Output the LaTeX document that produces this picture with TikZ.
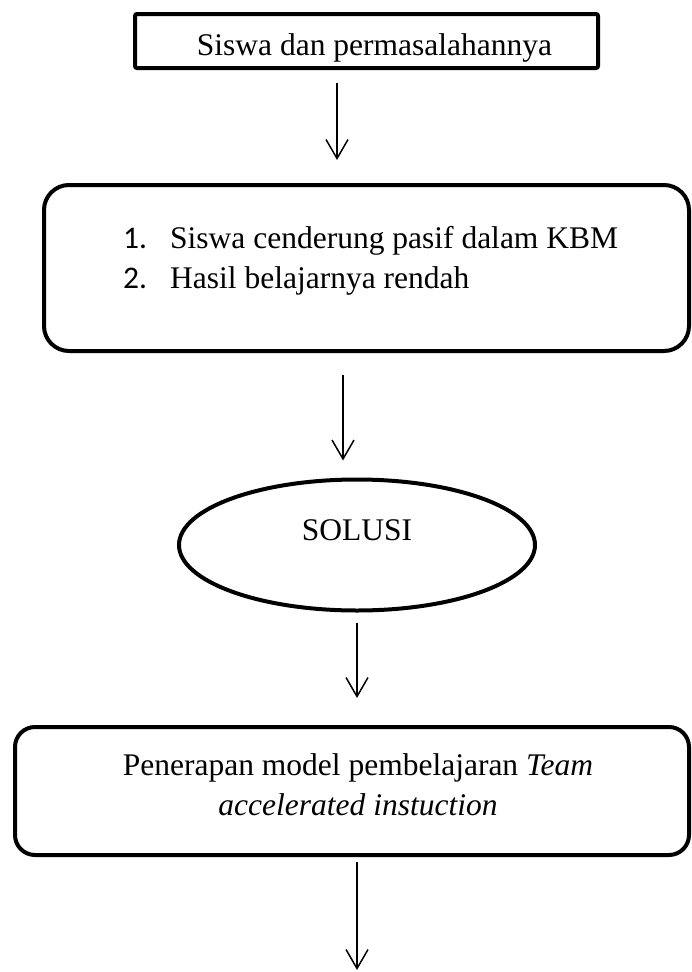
\documentclass[tikz,border=0pt]{standalone}
\usepackage{fontspec}
\setmainfont{Liberation Serif}
\newfontfamily\angka{Carlito}
\usepackage{tikz}
\usetikzlibrary{arrows.meta, positioning, shapes.geometric}

\begin{document}
\begin{tikzpicture}[
    x=1pt, y=-1pt, font=\fontsize{31.5}{40}\selectfont,
    kotak/.style={draw, line width=4pt, inner sep=0pt},
    panah/.style={-{Straight Barb[length=19pt, width=22pt]}, line width=1.5pt}
]
\useasboundingbox (0,0) rectangle (691,972);

\node[kotak, rounded corners=2pt, minimum width=463pt, text height=41pt,
      text depth=13pt, anchor=base] (siswa) at (366.5,55)
     {\hspace*{16pt}Siswa dan permasalahannya};

\node[kotak, rounded corners=25pt, minimum width=645pt, minimum height=166pt]
     (masalah) at (366.5,268) {};
\node[anchor=base west, inner sep=0pt] (daftar) at (123,248)
     {\begin{tabular}[t]{@{}p{47pt}@{}l@{}}
      {\angka 1.} & Siswa cenderung pasif dalam KBM\\
      {\angka 2.} & Hasil belajarnya rendah
      \end{tabular}};

\node[draw, ellipse, line width=4pt, inner sep=0pt, minimum width=356pt,
      minimum height=131pt, text height=21pt, text depth=31pt]
     (solusi) at (357,545) {SOLUSI};

\node[kotak, rounded corners=20pt, minimum width=674pt, minimum height=128pt]
     (penerapan) at (352,791) {};
\node[anchor=base, inner sep=0pt] (model) at (358,775)
     {\begin{tabular}[t]{@{}c@{}}
      Penerapan model pembelajaran \textit{Team}\\
      \textit{accelerated instuction}
      \end{tabular}};

\coordinate (akhir) at ([xshift=5pt, yshift=-113pt]penerapan.south);

\draw[panah] ([xshift=-29.5pt, yshift=-13pt]siswa.south)
          -- ([xshift=-29.5pt, yshift=23pt]masalah.north);
\draw[panah] ([xshift=-23.5pt, yshift=-22pt]masalah.south)
          -- ([xshift=-14pt, yshift=17pt]solusi.north);
\draw[panah] ([yshift=-10pt]solusi.south)
          -- ([xshift=5pt, yshift=27pt]penerapan.north);
\draw[panah] ([xshift=5pt, yshift=-5pt]penerapan.south) -- (akhir);
\end{tikzpicture}
\end{document}
